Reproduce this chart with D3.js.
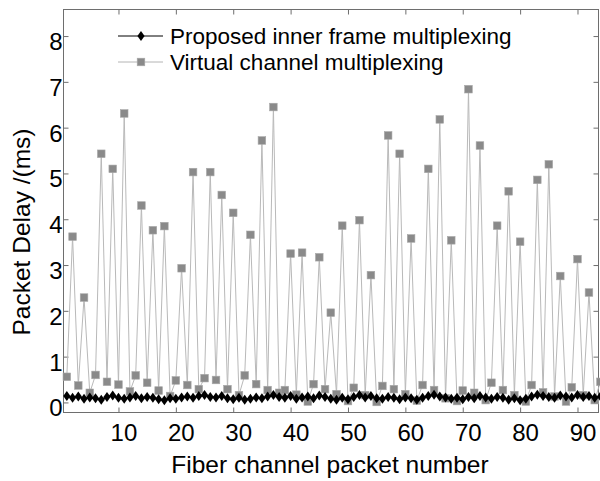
<!DOCTYPE html>
<html>
<head>
<meta charset="utf-8">
<script src="https://cdn.jsdelivr.net/npm/d3@7"></script>
<style>
    body { margin: 0; background: white; }
    text { font-family: "Liberation Sans", Arial, sans-serif; }
</style>
</head>
<body>
<script>
"use strict";

var seriesNames = ["Proposed inner frame multiplexing", "Virtual channel multiplexing"];
var xTicks = [10, 20, 30, 40, 50, 60, 70, 80, 90];
var yTicks = [0, 1, 2, 3, 4, 5, 6, 7, 8];

// packet numbers 1..94
var proposedDelay = [
    0.14, 0.10, 0.13, 0.08, 0.11, 0.09, 0.06, 0.12, 0.15, 0.10,
    0.08, 0.11, 0.14, 0.09, 0.12, 0.10, 0.07, 0.05, 0.09, 0.08,
    0.11, 0.13, 0.10, 0.14, 0.16, 0.12, 0.11, 0.14, 0.09, 0.07,
    0.10, 0.06, 0.08, 0.11, 0.09, 0.13, 0.16, 0.12, 0.10, 0.14,
    0.08, 0.11, 0.13, 0.09, 0.15, 0.12, 0.08, 0.06, 0.10, 0.07,
    0.12, 0.16, 0.11, 0.14, 0.09, 0.08, 0.12, 0.10, 0.07, 0.11,
    0.09, 0.06, 0.10, 0.14, 0.17, 0.13, 0.11, 0.08, 0.10, 0.07,
    0.12, 0.09, 0.14, 0.11, 0.08, 0.12, 0.10, 0.06, 0.09, 0.05,
    0.08, 0.13, 0.17, 0.14, 0.12, 0.10, 0.15, 0.13, 0.11, 0.16,
    0.12, 0.14, 0.10, 0.13
];

var virtualDelay = [
    0.56, 3.62, 0.37, 2.29, 0.21, 0.60, 5.43, 0.45, 5.10, 0.39,
    6.31, 0.24, 0.59, 4.30, 0.43, 3.76, 0.26, 3.85, 0.14, 0.48,
    2.93, 0.38, 5.03, 0.29, 0.53, 5.03, 0.49, 4.53, 0.29, 4.14,
    0.16, 0.59, 3.66, 0.40, 5.72, 0.27, 6.45, 0.21, 0.27, 3.25,
    0.17, 3.27, 0.02, 0.40, 3.17, 0.29, 1.96, 0.18, 3.86, 0.03,
    0.32, 3.98, 0.16, 2.78, 0.01, 0.36, 5.83, 0.29, 5.43, 0.18,
    3.58, 0.04, 0.38, 5.10, 0.27, 6.18, 0.09, 3.54, 0.03, 0.26,
    6.84, 0.21, 5.61, 0.05, 0.43, 3.86, 0.27, 4.61, 0.16, 3.51,
    0.02, 0.38, 4.86, 0.22, 5.20, 0.13, 2.76, 0.02, 0.33, 3.13,
    0.16, 2.40, 0.05, 0.45
];

var widthEcran = 600;
var heightEcran = 481;
var plotLeft = 63.5, plotRight = 598.5, plotTop = 9.5, plotBottom = 412.5;

function baseCanvas() {
    return d3.select("body")
        .append("svg")
        .attr("width", widthEcran)
        .attr("height", heightEcran);
}

var canvas = baseCanvas();

var xScale = d3.scaleLinear().domain([0.42, 93.66]).range([plotLeft, plotRight]);
var yScale = d3.scaleLinear().domain([-0.22, 8.58]).range([plotBottom, plotTop]);

// axes frame and inward ticks
function baseAxes() {
    var frameColor = "#6e6e6e";
    var bottom = canvas.append("g").attr("transform", "translate(0," + plotBottom + ")")
        .call(d3.axisBottom(xScale).tickValues(xTicks).tickSize(-5).tickFormat(""));
    var top = canvas.append("g").attr("transform", "translate(0," + plotTop + ")")
        .call(d3.axisTop(xScale).tickValues(xTicks).tickSize(-5).tickFormat(""));
    var left = canvas.append("g").attr("transform", "translate(" + plotLeft + ",0)")
        .call(d3.axisLeft(yScale).tickValues(yTicks).tickSize(-5).tickFormat(""));
    var right = canvas.append("g").attr("transform", "translate(" + plotRight + ",0)")
        .call(d3.axisRight(yScale).tickValues(yTicks).tickSize(-5).tickFormat(""));
    [bottom, top, left, right].forEach(function (g) {
        g.select(".domain").remove();
        g.selectAll("line").attr("stroke", frameColor).attr("stroke-width", 1);
    });
    canvas.append("rect")
        .attr("x", plotLeft)
        .attr("y", plotTop)
        .attr("width", plotRight - plotLeft)
        .attr("height", plotBottom - plotTop)
        .attr("fill", "none")
        .attr("stroke", frameColor)
        .attr("stroke-width", 1);

    canvas.selectAll(".xlab")
        .data(xTicks)
        .enter()
        .append("text")
        .attr("class", "xlab")
        .attr("x", function (d) { return xScale(d) + 5.5; })
        .attr("y", plotBottom + 28)
        .attr("text-anchor", "middle")
        .attr("font-size", "24px")
        .attr("fill", "black")
        .text(function (d) { return d; });

    canvas.selectAll(".ylab")
        .data(yTicks)
        .enter()
        .append("text")
        .attr("class", "ylab")
        .attr("x", plotLeft - 1)
        .attr("y", function (d) { return yScale(d) + 14; })
        .attr("text-anchor", "end")
        .attr("font-size", "24px")
        .attr("fill", "black")
        .text(function (d) { return d; });

    canvas.append("text")
        .attr("x", 330)
        .attr("y", 473)
        .attr("text-anchor", "middle")
        .attr("font-size", "24.5px")
        .text("Fiber channel packet number");

    canvas.append("text")
        .attr("transform", "translate(30,232) rotate(-90)")
        .attr("text-anchor", "middle")
        .attr("font-size", "24.5px")
        .text("Packet Delay /(ms)");
}

function drawSeries(values, lineColor, lineWidth) {
    var line = d3.line()
        .x(function (d, i) { return xScale(i + 1); })
        .y(function (d) { return yScale(d); });
    canvas.append("path")
        .datum(values)
        .attr("d", line)
        .attr("fill", "none")
        .attr("stroke", lineColor)
        .attr("stroke-width", lineWidth);
}

function drawSquares(values) {
    canvas.selectAll(".sq")
        .data(values)
        .enter()
        .append("rect")
        .attr("class", "sq")
        .attr("x", function (d, i) { return xScale(i + 1) - 3.8; })
        .attr("y", function (d) { return yScale(d) - 3.8; })
        .attr("width", 7.6)
        .attr("height", 7.6)
        .attr("fill", "#8a8a8a")
        .attr("stroke", "#a8a8a8")
        .attr("stroke-width", 0.6);
}

var diamond = "M0,-5L3.6,0L0,5L-3.6,0Z";

function drawDiamonds(values) {
    canvas.selectAll(".dm")
        .data(values)
        .enter()
        .append("path")
        .attr("class", "dm")
        .attr("d", diamond)
        .attr("transform", function (d, i) {
            return "translate(" + xScale(i + 1) + "," + yScale(d) + ")";
        })
        .attr("fill", "black");
}

function baseLegend() {
    var rows = [
        { name: seriesNames[0], y: 36, color: "black", mark: "diamond" },
        { name: seriesNames[1], y: 62, color: "#b4b4b4", mark: "square" }
    ];
    rows.forEach(function (r) {
        canvas.append("line")
            .attr("x1", 118).attr("x2", 163)
            .attr("y1", r.y).attr("y2", r.y)
            .attr("stroke", r.color)
            .attr("stroke-width", 1);
        if (r.mark === "diamond") {
            canvas.append("path")
                .attr("d", diamond)
                .attr("transform", "translate(141," + r.y + ")")
                .attr("fill", "black");
        } else {
            canvas.append("rect")
                .attr("x", 141 - 3.8).attr("y", r.y - 3.8)
                .attr("width", 7.6).attr("height", 7.6)
                .attr("fill", "#8a8a8a")
                .attr("stroke", "#a8a8a8")
                .attr("stroke-width", 0.6);
        }
        canvas.append("text")
            .attr("x", 170)
            .attr("y", r.y + 8)
            .attr("font-size", "22.5px")
            .text(r.name);
    });
}

baseAxes();
drawSeries(virtualDelay, "#b9b9b9", 1);
drawSquares(virtualDelay);
drawSeries(proposedDelay, "black", 1.8);
drawDiamonds(proposedDelay);
baseLegend();
</script>
</body>
</html>
